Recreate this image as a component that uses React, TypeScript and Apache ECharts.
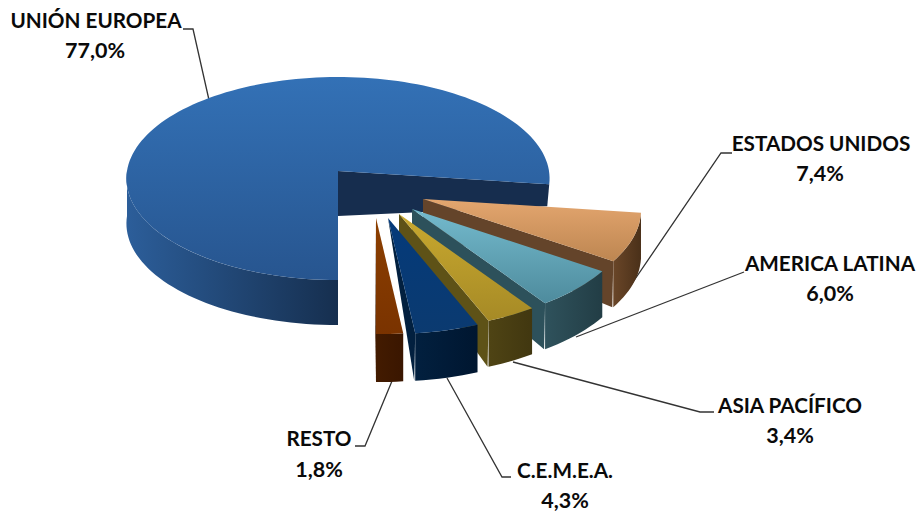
import React, { useEffect, useRef } from "react";
import * as echarts from "echarts";

const categories = ["UNIÓN EUROPEA", "ESTADOS UNIDOS", "AMERICA LATINA", "ASIA PACÍFICO", "C.E.M.E.A.", "RESTO"];
const values = [77.0, 7.4, 6.0, 3.4, 4.3, 1.8];

const topColors = [
  ["#3371b6", "#27558f"],
  ["#e4a66f", "#bd8651"],
  ["#74bacd", "#4e8b9d"],
  ["#c9a92f", "#a68a26"],
  ["#043a7a", "#0b3a70"],
  ["#8c3f00", "#7a3300"],
];
const wallColors = ["#162d4e", "#64442a", "#2d515b", "#5e5217", "#02203f", "#3d1800"];
const outerColors = [
  ["#2c5e9a", "#162f4f"],
  ["#6a4628", "#4a3019"],
  ["#2f525c", "#223d45"],
  ["#4f4414", "#413710"],
  ["#02203f", "#001630"],
  ["#431b00", "#3a1600"],
];

// layout: offset of each slice's apex from the pie centre, depth at the apex and rim
const apexOffsets = [[0, 0], [85, 28], [74, 38], [61, 43], [50, 47], [38, 47]];
const CENTER = [338, 171];
const mainProj = { R: 211, k: 101, p: 0.074 };
const sliceProj = { R: 217, k: 104.5, p: 0.1 };
const rimDepths = [45, 46, 46, 46, 47.5, 48];
const apexDepths = [45, 30, 30, 30, 0, 0];
const START_ANGLE = 180;

const labelAnchors = [
  [96, 20, 95, 50],
  [821, 143, 820, 173],
  [830, 263, 830, 293],
  [790, 405, 790, 435],
  [565, 470, 565, 500],
  [319, 438, 319, 469],
];
const leaders = [
  [[183, 29], [193, 29], [209, 100]],
  [[732, 153], [721, 153], [631, 285]],
  [[744, 272], [576, 337]],
  [[714, 412], [700, 412], [513, 362]],
  [[511, 477], [502, 477], [447, 378]],
  [[355, 446], [365, 446], [392, 381]],
];

const total = values.reduce((a, b) => a + b, 0);
const fmt = (v: number) => v.toFixed(1).replace(".", ",") + "%";

function angles(i: number) {
  let a = START_ANGLE;
  for (let j = 0; j < i; j++) a += (values[j] / total) * 360;
  return [a, a + (values[i] / total) * 360];
}

function project(i: number, deg: number) {
  const pr = i === 0 ? mainProj : sliceProj;
  const t = (deg * Math.PI) / 180;
  const v = -Math.cos(t);
  const f = 1 - pr.p * v;
  return [
    CENTER[0] + apexOffsets[i][0] + (pr.R * Math.sin(t)) / f,
    CENTER[1] + apexOffsets[i][1] + (pr.k * v) / f,
  ];
}

function arc(i: number, a0: number, a1: number) {
  const n = Math.max(2, Math.ceil(Math.abs(a1 - a0) / 2));
  const pts: number[][] = [];
  for (let s = 0; s <= n; s++) pts.push(project(i, a0 + ((a1 - a0) * s) / n));
  return pts;
}

const grad = (c: string[], horizontal: boolean) =>
  new echarts.graphic.LinearGradient(0, 0, horizontal ? 1 : 0, horizontal ? 0 : 1, [
    { offset: 0, color: c[0] },
    { offset: 1, color: c[1] },
  ]);

function renderSlice(params: any) {
  const i = params.dataIndex;
  const [a0, a1] = angles(i);
  const apex = [CENTER[0] + apexOffsets[i][0], CENTER[1] + apexOffsets[i][1]];
  const d = rimDepths[i];
  const children: any[] = [];
  const endPt = project(i, a1);
  const rimEnd = i === 0 ? [endPt[0] - 2, endPt[1] + 22] : [endPt[0] - 1, endPt[1] + d];
  const wall = [apex, endPt, rimEnd, [apex[0], apex[1] + apexDepths[i]]];
  children.push({ type: "polygon", shape: { points: wall }, style: { fill: wallColors[i] } });

  const outerTo = i === 0 ? 270 : a1;
  const top = arc(i, a0, outerTo);
  const bottom = top.map((p) => [p[0], p[1] + d]).reverse();
  children.push({
    type: "polygon",
    shape: { points: top.concat(bottom) },
    style: { fill: grad(outerColors[i], true) },
  });

  children.push({
    type: "polygon",
    shape: { points: [apex].concat(arc(i, a0, a1)) },
    style: { fill: grad(topColors[i], false) },
  });
  return { type: "group", children };
}

const textStyle = (text: string, x: number, y: number, size: number) => ({
  type: "text",
  x,
  y,
  z: 10,
  style: {
    text,
    fill: "#0a0a0a",
    font: `bold ${size}px Lato, sans-serif`,
    textAlign: "center",
    textVerticalAlign: "middle",
  },
});

export default function App() {
  const ref = useRef<HTMLDivElement>(null);
  useEffect(() => {
    const chart = echarts.init(ref.current!, null, { renderer: "svg" });
    const graphic: any[] = [];
    leaders.forEach((pts) =>
      graphic.push({
        type: "polyline",
        z: 0,
        shape: { points: pts },
        style: { stroke: "#333333", lineWidth: 1.3, fill: "none" },
      })
    );
    categories.forEach((c, i) => {
      const a = labelAnchors[i];
      graphic.push(textStyle(c, a[0], a[1], 20.7));
      graphic.push(textStyle(fmt(values[i]), a[2], a[3], 21.5));
    });
    chart.setOption({
      animation: false,
      backgroundColor: "#ffffff",
      graphic,
      series: [
        {
          type: "custom",
          coordinateSystem: "none",
          silent: true,
          z: 5,
          data: values.map((v, i) => ({ name: categories[i], value: [v] })),
          renderItem: renderSlice,
        },
      ],
    });
    return () => chart.dispose();
  }, []);
  return <div ref={ref} style={{ position: "fixed", left: 0, top: 0, width: 919, height: 513 }} />;
}
